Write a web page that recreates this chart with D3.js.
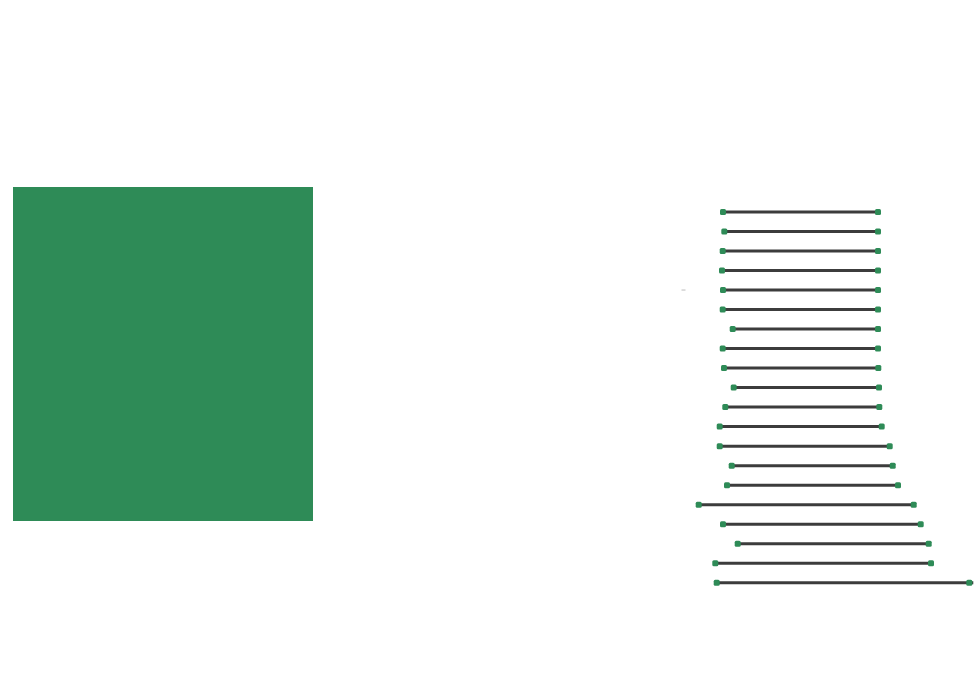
<!DOCTYPE html>
<html>
<head>
<meta charset="utf-8">
<script src="https://cdn.jsdelivr.net/npm/d3@7"></script>
<style>
  html, body { margin: 0; padding: 0; background: #fff; }
  svg { display: block; }
</style>
</head>
<body>
<svg id="chart" width="980" height="700"></svg>
<script>
// ---- data ----
const rows = d3.range(1, 21).map(i => "R" + i);
const startValues = [43, 44.3, 42.7, 42, 43, 42.7, 52.7, 42.7, 44, 53.7,
                     45.3, 39.7, 39.7, 51.7, 47, 18.7, 43, 57.7, 35.3, 36.7];
const endValues   = [198, 198, 198, 198, 198, 198, 198, 198, 198.3, 199,
                     199.3, 201.7, 209.7, 212.7, 218, 233.7, 240.7, 248.7, 251, 289.3];
const lineEndValues = [198, 198, 198, 198, 198, 198, 198, 198, 198.3, 199,
                     199.3, 201.7, 209.7, 212.7, 218, 233.7, 240.7, 248.7, 251, 293.3];
const blockValue = [1];

const svg = d3.select("#chart");
const green = "#2e8b57";

// left block
const bx = d3.scaleBand().domain(["block"]).range([13, 313]).padding(0);
const by = d3.scaleLinear().domain([0, 1]).range([521, 187]);
svg.append("g").selectAll("rect").data(blockValue).join("rect")
  .attr("x", bx("block"))
  .attr("width", bx.bandwidth())
  .attr("y", d => by(d))
  .attr("height", d => by(0) - by(d))
  .attr("fill", green);

// dumbbell
const x = d3.scaleLinear().domain([0, 300]).range([680, 980]);
const y = d3.scalePoint().domain(rows).range([212, 582.7]);

const data = rows.map((r, i) => ({ r, s: startValues[i], e: endValues[i], le: lineEndValues[i] }));

// tiny mark
svg.append("line")
  .attr("x1", x(1.5)).attr("x2", x(5.5))
  .attr("y1", y("R5")).attr("y2", y("R5"))
  .attr("stroke", "#bbb").attr("stroke-width", 1);

const g = svg.append("g");
g.selectAll("line.bar").data(data).join("line")
  .attr("class", "bar")
  .attr("x1", d => x(d.s)).attr("x2", d => x(d.le))
  .attr("y1", d => y(d.r)).attr("y2", d => y(d.r))
  .attr("stroke", "#3c3c3c").attr("stroke-width", 3);

const m = 6;
g.selectAll("rect.s").data(data).join("rect")
  .attr("class", "s")
  .attr("x", d => x(d.s) - m / 2).attr("y", d => y(d.r) - m / 2)
  .attr("width", m).attr("height", m).attr("rx", 1.5)
  .attr("fill", green);
g.selectAll("rect.e").data(data).join("rect")
  .attr("class", "e")
  .attr("x", d => x(d.e) - m / 2).attr("y", d => y(d.r) - m / 2)
  .attr("width", m).attr("height", m).attr("rx", 1.5)
  .attr("fill", green);
</script>
</body>
</html>
